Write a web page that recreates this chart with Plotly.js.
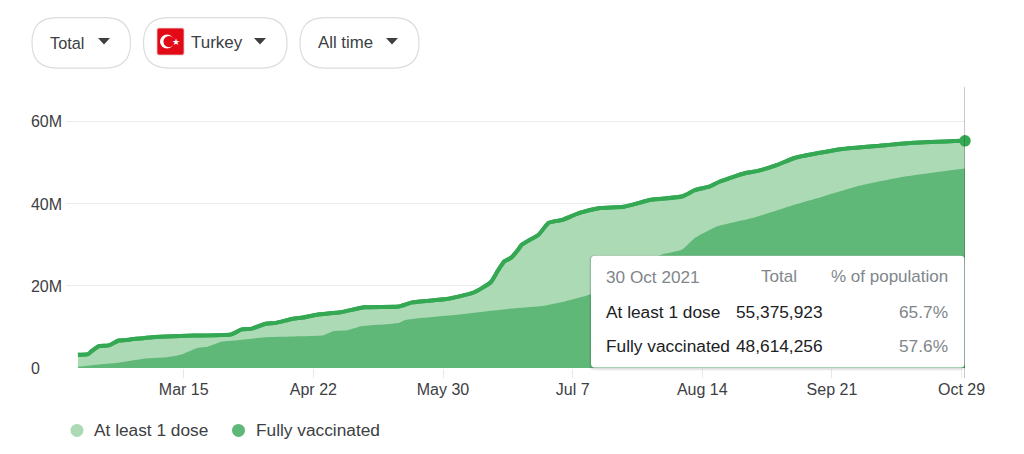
<!DOCTYPE html>
<html><head><meta charset="utf-8">
<script src="https://cdn.plot.ly/plotly-3.0.0.min.js"></script>
<style>html,body{margin:0;padding:0;background:#fff}#c{width:1024px;height:454px}</style>
</head><body><div id="c"></div>
<script>
const doseDates=['2021-02-12','2021-02-15','2021-02-16','2021-02-18','2021-02-21','2021-02-24','2021-02-27','2021-03-04','2021-03-10','2021-03-18','2021-03-29','2021-04-01','2021-04-04','2021-04-08','2021-04-11','2021-04-16','2021-04-19','2021-04-23','2021-04-30','2021-05-07','2021-05-17','2021-05-21','2021-05-31','2021-06-08','2021-06-13','2021-06-15','2021-06-17','2021-06-19','2021-06-21','2021-06-22','2021-06-27','2021-06-30','2021-07-04','2021-07-09','2021-07-15','2021-07-22','2021-07-30','2021-08-08','2021-08-12','2021-08-16','2021-08-19','2021-08-22','2021-08-27','2021-08-30','2021-09-05','2021-09-10','2021-09-17','2021-09-24','2021-10-05','2021-10-15','2021-10-30'];
const doseValues=[3.2,3.4,4.1,5.3,5.5,6.7,6.9,7.4,7.7,7.9,8.2,9.4,9.6,10.8,11.0,12.0,12.3,13.0,13.6,14.8,15.0,16.0,16.8,18.4,20.9,23.6,26.0,26.9,28.8,30.0,32.5,35.4,36.1,37.8,39.0,39.3,41.0,41.8,43.4,44.2,45.4,46.3,47.6,48.0,49.5,51.2,52.4,53.4,54.2,54.9,55.376];
const fullDates=['2021-02-12','2021-02-16','2021-02-23','2021-03-04','2021-03-10','2021-03-14','2021-03-19','2021-03-22','2021-03-26','2021-04-01','2021-04-08','2021-04-16','2021-04-25','2021-04-28','2021-05-02','2021-05-06','2021-05-17','2021-05-19','2021-06-02','2021-06-18','2021-06-28','2021-07-05','2021-07-12','2021-07-22','2021-08-02','2021-08-08','2021-08-12','2021-08-18','2021-08-29','2021-09-10','2021-09-18','2021-09-29','2021-10-12','2021-10-30'];
const fullValues=[0.3,0.7,1.2,2.3,2.6,3.2,4.9,5.2,6.4,6.9,7.5,7.7,8.0,9.0,9.2,10.2,11.0,11.7,12.9,14.4,15.1,16.3,17.9,22.7,27.6,28.8,31.8,34.4,36.6,39.8,41.7,44.4,46.6,48.614];
const xTickVals=['2021-03-15','2021-04-22','2021-05-30','2021-07-07','2021-08-14','2021-09-21','2021-10-29'];
const xTickText=['Mar 15','Apr 22','May 30','Jul 7','Aug 14','Sep 21','Oct 29'];
const yTickVals=[0,20,40,60];
const yTickText=['0','20M','40M','60M'];
const seriesNames=['At least 1 dose','Fully vaccinated'];
const tooltipHead=['30 Oct 2021','Total','% of population'];
const tooltipTotals=['55,375,923','48,614,256'];
const tooltipPct=['65.7%','57.6%'];
const pillLabels=['Total','Turkey','All time'];

const W=1024,H=454,ML=66,MR=59,MT=87,MB=85.5;
const PW=W-ML-MR,PH=H-MT-MB;
const px=x=>(x-ML)/PW, py=y=>(H-MB-y)/PH;
const pad='\u00a0'.repeat(5);
const GREY='#80868b',DARK='#3c4043',BLACK='#202124';
const shapes=[],ann=[];
function rr(x0,y0,x1,y1,r,style){
  const rx=r/PW, ry=r/PH;
  const a=px(x0),b=px(x1),c=py(y0),d=py(y1);
  shapes.push(Object.assign({type:'path',xref:'paper',yref:'paper',layer:'above',
   path:`M${a+rx},${c}L${b-rx},${c}Q${b},${c} ${b},${c-ry}L${b},${d+ry}Q${b},${d} ${b-rx},${d}L${a+rx},${d}Q${a},${d} ${a},${d+ry}L${a},${c-ry}Q${a},${c} ${a+rx},${c}Z`},style));
}
function circ(cx,cy,r,fill){
  shapes.push({type:'circle',xref:'paper',yref:'paper',layer:'above',x0:px(cx-r),x1:px(cx+r),y0:py(cy+r),y1:py(cy-r),fillcolor:fill,line:{width:0}});
}
function tri(x0,x1,y0,y1){
  const m=(x0+x1)/2;
  shapes.push({type:'path',xref:'paper',yref:'paper',layer:'above',path:`M${px(x0)},${py(y0)}L${px(x1)},${py(y0)}L${px(m)},${py(y1)}Z`,fillcolor:DARK,line:{width:0}});
}
function txt(t,x,y,anchor,size,color){
  ann.push({text:t,xref:'paper',yref:'paper',x:px(anchor==='left'?x-1:x),y:py(y),xanchor:anchor,yanchor:'middle',showarrow:false,borderpad:0,
    font:{family:'Liberation Sans, Arial, sans-serif',size:size,color:color}});
}
// filter pills
const pill={fillcolor:'#fff',line:{color:'#dadce0',width:1.2}};
rr(32,17.5,130.5,68,25,pill);
rr(143.5,17.5,287,68,25,pill);
rr(300,17.5,419,68,25,pill);
txt(pillLabels[0],50,42.5,'left',16.3,DARK); tri(98,110,38,44.5);
rr(157,28,184,55,2,{fillcolor:'#e30a17',line:{color:'#e4c8cc',width:0.8}});
circ(167,41.5,7,'#fff'); circ(169,41.5,5.6,'#e30a17');
txt('★',176,41.5,'center',9,'#fff');
txt(pillLabels[1],191,42.5,'left',17,DARK); tri(254,266,38,44.5);
txt(pillLabels[2],318,42.5,'left',16.8,DARK); tri(386,398,38,44.5);
// tooltip
rr(589,255,965,371,5,{fillcolor:'rgba(0,0,0,0.05)',line:{width:0}});
rr(590,255.5,965,370,5,{fillcolor:'rgba(0,0,0,0.08)',line:{width:0}});
rr(591,256,964.6,368,4,{fillcolor:'#fff',line:{width:0}});
// hover guide
shapes.push({type:'line',xref:'x',yref:'paper',layer:'above',x0:doseDates[doseDates.length-1],x1:doseDates[doseDates.length-1],y0:py(378),y1:py(87),line:{color:'#222',width:1,dash:'1px,1px'}});
txt(tooltipHead[0],606,277,'left',17.2,GREY);
txt(tooltipHead[1],798,277,'right',17,GREY);
txt(tooltipHead[2],948.5,277,'right',17,GREY);
[312,346].forEach((y,i)=>{
  txt(seriesNames[i],606,y,'left',17.3,BLACK);
  txt(tooltipTotals[i],823.5,y,'right',17.3,BLACK);
  txt(tooltipPct[i],948.5,y,'right',17.3,GREY);
});
// legend
circ(77,431,6.5,'#abdab5'); txt(seriesNames[0],94,431,'left',17.3,DARK);
circ(238.5,431,6.5,'#5fb878'); txt(seriesNames[1],256,431,'left',17.3,DARK);

const curve={shape:'spline',smoothing:0.5};
const traces=[
 {x:doseDates,y:doseValues,type:'scatter',mode:'lines',name:seriesNames[0],fill:'tozeroy',fillcolor:'#abdab5',line:Object.assign({color:'#34a853',width:4},curve),hoverinfo:'skip'},
 {x:fullDates,y:fullValues,type:'scatter',mode:'lines',name:seriesNames[1],fill:'tozeroy',fillcolor:'#5fb878',line:Object.assign({color:'#5fb878',width:0},curve),hoverinfo:'skip'},
 {x:doseDates,y:doseValues,type:'scatter',mode:'lines',showlegend:false,line:Object.assign({color:'#34a853',width:4},curve),hoverinfo:'skip'},
 {x:doseDates.slice(-1),y:doseValues.slice(-1),type:'scatter',mode:'markers',cliponaxis:false,marker:{color:'#34a853',size:11.5},hoverinfo:'skip',showlegend:false}
];
const layout={
 width:W,height:H,paper_bgcolor:'#fff',plot_bgcolor:'#fff',showlegend:false,
 margin:{l:ML,r:MR,t:MT,b:MB,pad:0},
 font:{family:'Liberation Sans, Arial, sans-serif',color:DARK,size:16},
 xaxis:{type:'date',range:['2021-02-08 12:00','2021-10-30'],tickmode:'array',tickvals:xTickVals,ticktext:xTickText,ticks:'outside',ticklen:9,tickwidth:1,tickcolor:'#e8e8e8',showgrid:false,zeroline:false,showline:false,tickangle:0,ticklabelstandoff:-2},
 yaxis:{range:[0,68.5],tickmode:'array',tickvals:yTickVals,ticktext:yTickText.map(t=>t==='0'?t+pad:t),ticks:'',gridcolor:'#ececec',gridwidth:1,zeroline:false,showline:false,ticklabelstandoff:3},
 shapes:shapes,annotations:ann
};
Plotly.newPlot('c',traces,layout,{displayModeBar:false,staticPlot:true});
</script></body></html>
